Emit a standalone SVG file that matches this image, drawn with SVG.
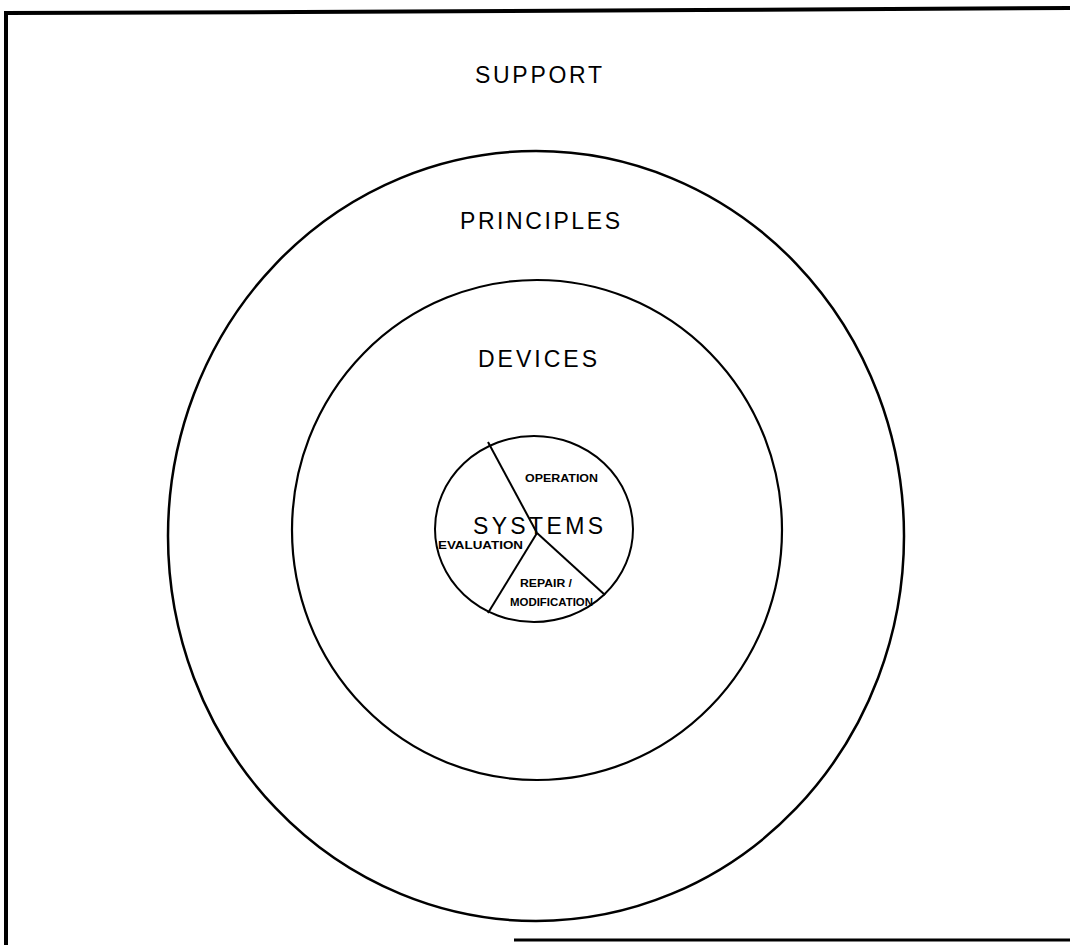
<svg xmlns="http://www.w3.org/2000/svg" width="1070" height="945" viewBox="0 0 1070 945">
<style>
.ring{fill:none;stroke:#000;}
.big{font-family:"Liberation Sans",Arial,sans-serif;font-size:23px;fill:#000;}
.small{font-family:"Liberation Sans",Arial,sans-serif;font-size:10.5px;font-weight:bold;fill:#000;}
.line{stroke:#000;stroke-width:2;fill:none;}
</style>
<rect width="1070" height="945" fill="#fff"/>
<g id="border">
<path d="M6,945 L6,13 L300,12 L700,10 L1070,8" stroke="#000" stroke-width="4" fill="none"/>
<path d="M514,940 L1070,940" stroke="#000" stroke-width="3" fill="none"/>
</g>
<g id="support">
<ellipse class="ring" cx="536" cy="536" rx="368" ry="385" stroke-width="2.5"/>
<text class="big" x="475" y="83" textLength="127" lengthAdjust="spacing">SUPPORT</text>
</g>
<g id="principles">
<ellipse class="ring" cx="537" cy="530" rx="245" ry="250" stroke-width="2.2"/>
<text class="big" x="460" y="229" textLength="160" lengthAdjust="spacing">PRINCIPLES</text>
</g>
<g id="devices">
<text class="big" x="478" y="367" textLength="119" lengthAdjust="spacing">DEVICES</text>
</g>
<g id="systems">
<ellipse class="ring" cx="534" cy="529" rx="99" ry="93" stroke-width="2"/>
<text class="big" x="473" y="534" font-size="21" textLength="130" lengthAdjust="spacing">SYSTEMS</text>
</g>
<g id="connectors">
<line class="line" x1="488" y1="442" x2="537" y2="533"/>
<line class="line" x1="537" y1="533" x2="605" y2="595"/>
<line class="line" x1="537" y1="533" x2="488" y2="613"/>
</g>
<g id="operation">
<text class="small" x="525" y="482" textLength="73" lengthAdjust="spacingAndGlyphs">OPERATION</text>
</g>
<g id="evaluation">
<text class="small" x="438" y="549" textLength="85" lengthAdjust="spacingAndGlyphs">EVALUATION</text>
</g>
<g id="repair">
<text class="small" x="520" y="587" textLength="52" lengthAdjust="spacingAndGlyphs">REPAIR /</text>
<text class="small" x="510" y="606" textLength="83" lengthAdjust="spacingAndGlyphs">MODIFICATION</text>
</g>
</svg>
